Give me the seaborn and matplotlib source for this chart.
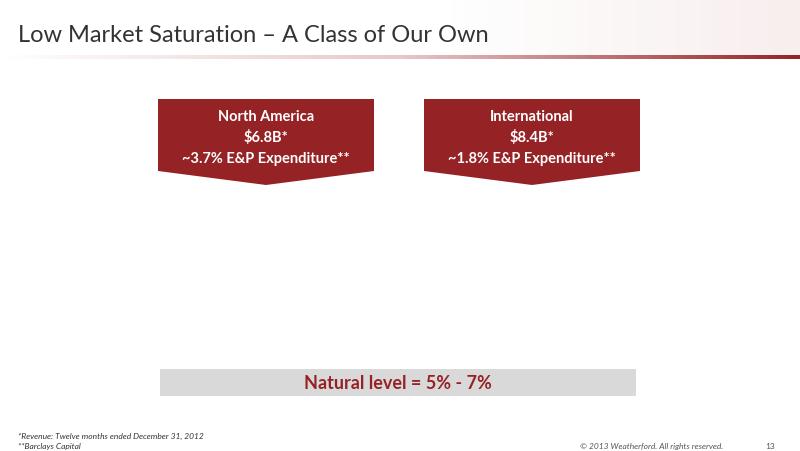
import matplotlib.pyplot as plt
import seaborn as sns
import numpy as np
from matplotlib.patches import Polygon, Rectangle

# slide content
title = 'Low Market Saturation \u2013 A Class of Our Own'
regions = ['North America', 'International']
revenue = ['$6.8B*', '$8.4B*']
share = ['~3.7% E&P Expenditure**', '~1.8% E&P Expenditure**']
natural_level = 'Natural level = 5% - 7%'
footnotes = ['*Revenue: Twelve months ended December 31, 2012', '**Barclays Capital']
copyright_txt = '\u00a9 2013 Weatherford. All rights reserved.'
page = '13'

sns.set_theme(style='white')
plt.rcParams['font.family'] = ['Lato', 'DejaVu Sans']
red = '#952326'

fig = plt.figure(figsize=(8, 4.52), dpi=100)
ax = fig.add_axes([0, 0, 1, 1])
ax.set_xlim(0, 800)
ax.set_ylim(452, 0)
ax.axis('off')

# title and swoosh line
ax.text(18, 35, title, fontsize=17, color='#333333', va='center')
grad = np.linspace(0, 1, 256).reshape(1, -1)
cmap = sns.blend_palette(['#ffffff', '#e8c8c8', red], as_cmap=True)
ax.imshow(grad, extent=(0, 800, 60, 56), cmap=cmap, aspect='auto')
ax.imshow(grad, extent=(450, 800, 56, 0), cmap=sns.blend_palette(['#ffffff', '#f3e3e3'], as_cmap=True),
          aspect='auto', alpha=0.6)

# callout boxes
lefts = [158, 424]
width = 216
for x0, reg, rev, sh in zip(lefts, regions, revenue, share):
    cx = x0 + width / 2
    pts = [(x0, 100), (x0 + width, 100), (x0 + width, 172), (cx, 186), (x0, 172)]
    ax.add_patch(Polygon(pts, closed=True, facecolor=red, edgecolor='none'))
    ax.text(cx, 117, reg, color='white', fontsize=10.5, fontweight='bold', ha='center', va='center')
    ax.text(cx, 138, rev, color='white', fontsize=10.5, fontweight='bold', ha='center', va='center')
    ax.text(cx, 159, sh, color='white', fontsize=10.5, fontweight='bold', ha='center', va='center')

# natural level bar
ax.add_patch(Rectangle((160, 370), 476, 27, facecolor='#d9d9d9', edgecolor='none'))
ax.text(398, 384, natural_level, color=red, fontsize=13, fontweight='bold', ha='center', va='center')

# footer
for i, fn in enumerate(footnotes):
    ax.text(18, 436 + i * 11, fn, fontsize=6, style='italic', color='#333333', va='center')
ax.text(580, 447, copyright_txt, fontsize=6, style='italic', color='#555555', va='center')
ax.text(765, 447, page, fontsize=6, color='#555555', va='center')

fig.savefig('out.png', dpi=100)
